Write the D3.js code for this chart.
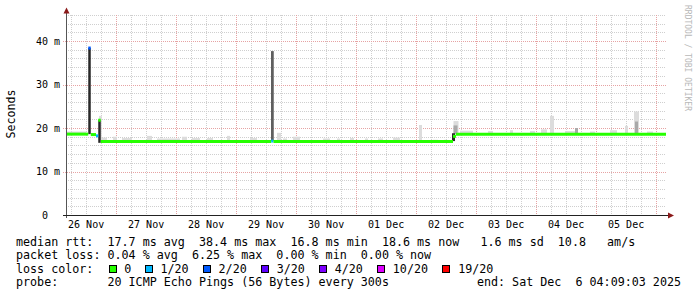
<!DOCTYPE html>
<html>
<head>
<meta charset="utf-8">
<script src="https://cdn.jsdelivr.net/npm/d3@7"></script>
<style>
  body { margin: 0; background: #fff; }
  svg text { font-family: "DejaVu Sans Mono", monospace; white-space: pre; }
</style>
</head>
<body>
<script>
var svgWidth = 697;
var svgHeight = 297;

var startTime = Date.UTC(2025, 10, 26, 4, 9, 3);
var endTime = Date.UTC(2025, 11, 6, 4, 9, 3);

// median rtt, as steps: hours after start, value in ms, pings lost out of 20
var medianHour = [0, 8.9, 9.9, 12.0, 12.9, 13.9, 82.1, 83.0, 154.8, 156.0];
var medianMs = [18.6, 38.4, 18.5, 18.2, 21.8, 16.9, 17.0, 16.9, 18.1, 18.6];
var medianLost = [0, 2, 0, 1, 0, 0, 1, 0, 0, 0];

// smoke (spread of the 20 pings): hours from/to, low/high ms, density 1..4
var smokeFrom = [0, 8.9, 13.2, 12.9, 14, 18.8, 22.4, 32.4, 36.4, 46.4, 50.4, 56.4, 64.4, 73.6, 82.0, 84.4, 86.8, 90.8, 102.8, 108.4, 113.6, 119.6, 124.8, 130.8, 141.2, 146.8, 151.2, 155.0, 155.0, 154.4, 157.6, 168.8, 177.6, 185.6, 190, 193.6, 199.6, 203.6, 209.6, 217.6, 223.6, 227.2, 227.6, 232.4];
var smokeTo = [8, 9.9, 14.3, 13.9, 16.4, 20.4, 26.4, 34.4, 45.6, 48.4, 53.6, 58.8, 65.6, 76.4, 83.1, 86, 88.4, 93.6, 105.6, 109.6, 115.2, 120.8, 126.8, 133.6, 142.4, 148.8, 152.4, 157.0, 156.6, 155.6, 162.8, 170.8, 178.8, 187.6, 192.4, 195.2, 203.6, 204.8, 211.6, 220.4, 224.8, 229.2, 228.8, 234.8];
var smokeLow = [18.6, 18.6, 16.9, 16.6, 16.9, 16.9, 16.9, 16.9, 16.9, 16.9, 16.9, 16.9, 16.9, 16.9, 17.0, 16.9, 16.9, 16.9, 16.9, 16.9, 16.9, 16.9, 16.9, 16.9, 16.9, 16.9, 16.9, 18.6, 18.6, 17.0, 18.6, 18.6, 18.6, 18.6, 18.6, 18.6, 18.6, 18.4, 18.6, 18.6, 18.6, 18.6, 18.4, 18.6];
var smokeHigh = [19.2, 38.4, 22.8, 21.8, 17.8, 18.0, 17.7, 18.2, 17.6, 18.0, 17.7, 17.7, 18.2, 17.7, 37.7, 18.9, 17.6, 18.0, 17.6, 17.6, 17.7, 17.6, 17.6, 17.8, 20.7, 17.3, 17.3, 21.6, 20.6, 18.8, 19.4, 19.3, 19.5, 19.3, 19.7, 22.8, 19.3, 20.0, 19.2, 19.5, 20.5, 23.8, 21.5, 19.2];
var smokeLevel = [1, 4, 1, 4, 1, 1, 1, 1, 1, 1, 1, 1, 1, 1, 3, 1, 1, 1, 1, 1, 1, 1, 1, 1, 1, 1, 1, 1, 2, 4, 1, 1, 1, 1, 1, 1, 1, 2, 1, 1, 1, 1, 2, 1];

var yTicks = [0, 10, 20, 30, 40];
var yLabels = ["0  ", "10 m", "20 m", "30 m", "40 m"];
var dayLabels = ["26 Nov", "27 Nov", "28 Nov", "29 Nov", "30 Nov", "01 Dec", "02 Dec", "03 Dec", "04 Dec", "05 Dec"];

var lossSteps = [1, 2, 3, 4, 10, 19];
var lossLabels = ["0", "1/20", "2/20", "3/20", "4/20", "10/20", "19/20"];
var lossColors = ["#26ff00", "#00b8ff", "#0059ff", "#5e00ff", "#7e00ff", "#dd00ff", "#ff0000"];
var smokeColors = ["#dcdcdc", "#a9a9a9", "#5f5f5f", "#282828"];

var legendLines = [
  "median rtt:  17.7 ms avg  38.4 ms max  16.8 ms min  18.6 ms now   1.6 ms sd  10.8   am/s",
  "packet loss: 0.04 % avg  6.25 % max  0.00 % min  0.00 % now",
  "loss color:",
  "probe:       20 ICMP Echo Pings (56 Bytes) every 300s"
];
var endLabel = "end: Sat Dec  6 04:09:03 2025";

var svg = d3.select("body")
  .append("svg")
  .attr("width", svgWidth)
  .attr("height", svgHeight);

var xScale = d3.scaleUtc()
  .domain([startTime, endTime])
  .range([66, 666]);
var yScale = d3.scaleLinear()
  .domain([0, 46])
  .range([215, 15]);
var lossColor = d3.scaleThreshold().domain(lossSteps).range(lossColors);
var hx = h => xScale(startTime + h * 3600e3);
var px = v => Math.round(v) + 0.5;

// grid
var grid = svg.append("g").attr("stroke-dasharray", "1,1").attr("stroke-width", 1);
var sixHours = d3.utcHour.every(6).range(startTime, endTime).filter(t => t.getUTCHours() != 0);
var midnights = d3.utcDay.range(startTime, endTime);
var minorY = d3.range(2, 47, 2).filter(v => v % 10 != 0);

grid.selectAll(".vminor").data(sixHours).enter().append("line")
  .attr("x1", d => px(xScale(d))).attr("x2", d => px(xScale(d)))
  .attr("y1", 15).attr("y2", 215)
  .attr("stroke", "#cfcfcf");
grid.selectAll(".hminor").data(minorY).enter().append("line")
  .attr("x1", 66).attr("x2", 666)
  .attr("y1", d => px(yScale(d))).attr("y2", d => px(yScale(d)))
  .attr("stroke", "#cfcfcf");
grid.selectAll(".vmajor").data(midnights).enter().append("line")
  .attr("x1", d => px(xScale(d))).attr("x2", d => px(xScale(d)))
  .attr("y1", 15).attr("y2", 215)
  .attr("stroke", "#e6a3a3");
grid.selectAll(".hmajor").data(yTicks.slice(1)).enter().append("line")
  .attr("x1", 63).attr("x2", 666)
  .attr("y1", d => px(yScale(d))).attr("y2", d => px(yScale(d)))
  .attr("stroke", "#e6a3a3");

// smoke
svg.append("g").selectAll("rect")
  .data(d3.range(smokeFrom.length))
  .enter()
  .append("rect")
  .attr("x", i => hx(smokeFrom[i]))
  .attr("width", i => hx(smokeTo[i]) - hx(smokeFrom[i]))
  .attr("y", i => yScale(smokeHigh[i]))
  .attr("height", i => yScale(smokeLow[i]) - yScale(smokeHigh[i]))
  .attr("fill", i => smokeColors[smokeLevel[i] - 1]);

// median line, one piece per step, coloured by loss
var line = d3.line();
svg.append("g").selectAll("path")
  .data(d3.range(medianHour.length))
  .enter()
  .append("path")
  .attr("d", i => {
    var end = i + 1 < medianHour.length ? medianHour[i + 1] : 240;
    return line([[hx(medianHour[i]), yScale(medianMs[i])], [hx(end), yScale(medianMs[i])]]);
  })
  .attr("fill", "none")
  .attr("stroke-width", 3)
  .attr("stroke", i => lossColor(medianLost[i]));

// axes
var leftAxis = d3.axisLeft(yScale)
  .tickValues(yTicks)
  .tickFormat((d, i) => yLabels[i])
  .tickSize(0)
  .tickPadding(6);
var yAxisG = svg.append("g")
  .attr("transform", "translate(66,0)")
  .call(leftAxis);
yAxisG.select(".domain").remove();
yAxisG.selectAll("text").attr("font-size", 10).attr("fill", "#000").attr("font-family", null);

var noons = d3.utcDay.range(Date.UTC(2025, 10, 26), Date.UTC(2025, 11, 6)).map(d => d3.utcHour.offset(d, 12));
var bottomAxis = d3.axisBottom(xScale)
  .tickValues(noons)
  .tickFormat((d, i) => dayLabels[i])
  .tickSize(0)
  .tickPadding(6);
var xAxisG = svg.append("g")
  .attr("transform", "translate(0,215)")
  .call(bottomAxis);
xAxisG.select(".domain").remove();
xAxisG.selectAll("text").attr("font-size", 10).attr("fill", "#000").attr("font-family", null);

svg.append("line")
  .attr("x1", 66.5).attr("x2", 66.5).attr("y1", 218).attr("y2", 12)
  .attr("stroke", "#555");
svg.append("line")
  .attr("x1", 63).attr("x2", 669).attr("y1", 215.5).attr("y2", 215.5)
  .attr("stroke", "#222");
svg.append("path")
  .attr("d", "M63.5,13.5 L66.5,7.5 L69.5,13.5 Z")
  .attr("fill", "#8b1a1a");
svg.append("path")
  .attr("d", "M668,212.5 L674,215.5 L668,218.5 Z")
  .attr("fill", "#8b1a1a");

svg.append("text")
  .attr("transform", "translate(15,114) rotate(-90)")
  .attr("text-anchor", "middle")
  .attr("font-size", 11.6)
  .text("Seconds");

svg.append("text")
  .attr("transform", "translate(685,5) rotate(90)")
  .attr("font-size", 8)
  .attr("fill", "#b8b8b8")
  .text("RRDTOOL / TOBI OETIKER");

// legend
var legendY = [245.5, 259, 272.5, 286];
svg.append("g").selectAll("text")
  .data(legendLines)
  .enter()
  .append("text")
  .attr("x", 16)
  .attr("y", (d, i) => legendY[i])
  .attr("font-size", 11.7)
  .text(d => d);

svg.append("text")
  .attr("x", 681)
  .attr("y", legendY[3])
  .attr("text-anchor", "end")
  .attr("font-size", 11.7)
  .text(endLabel);

var boxX = [108.5];
lossLabels.forEach(function(l, i) {
  if (i > 0) boxX.push(boxX[i - 1] + (lossLabels[i - 1].length + 4) * 7.26);
});
var keys = svg.append("g").selectAll("g")
  .data(lossLabels)
  .enter()
  .append("g");
keys.append("rect")
  .attr("x", (d, i) => Math.round(boxX[i]) + 0.5)
  .attr("y", 265.5)
  .attr("width", 7)
  .attr("height", 7)
  .attr("fill", (d, i) => lossColors[i])
  .attr("stroke", "#000");
keys.append("text")
  .attr("x", (d, i) => boxX[i] + 15.7)
  .attr("y", legendY[2])
  .attr("font-size", 11.7)
  .text(d => d);
</script>
</body>
</html>
